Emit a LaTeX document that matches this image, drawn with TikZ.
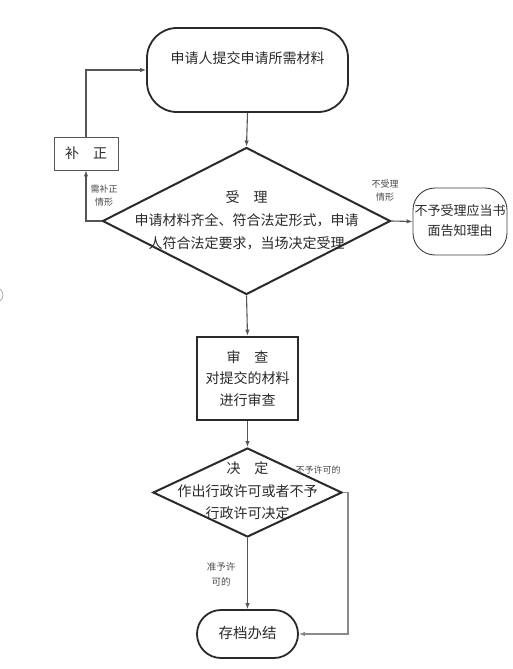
\documentclass[tikz,border=0pt]{standalone}
\usepackage{fontspec}
\newfontfamily\cjk{Noto Sans CJK SC}
\usetikzlibrary{shapes.geometric,arrows.meta}
\definecolor{ink}{HTML}{2A2A2A}
\definecolor{lineg}{HTML}{555555}
\definecolor{lightg}{HTML}{8A8A8A}
\begin{document}
\begin{tikzpicture}[x=1pt,y=-1pt,
  txt/.style={font=\cjk\fontsize{14}{23}\selectfont, text=ink, align=center, inner sep=0pt},
  small/.style={font=\cjk\fontsize{9}{13}\selectfont, text=ink!85, align=center, inner sep=0pt},
  terminal/.style={draw=ink, line width=1.8pt, inner sep=0pt},
  decision/.style={diamond, draw=ink, line width=2pt, inner sep=0pt},
  conn/.style={draw=lineg, line width=1.1pt, -{Latex[length=6pt,width=4.5pt]}},
  connlight/.style={draw=lightg, line width=1.1pt, -{Latex[length=6pt,width=4.5pt]}}
]
\useasboundingbox (0,0) rectangle (512,669);
\fill[white] (0,0) rectangle (512,669);

% top terminal
\node[terminal, rounded corners=30pt, minimum width=201pt, minimum height=84pt] (start) at (247.5,70) {};
\node[txt] (starttext) at (247.5,58) {申请人提交申请所需材料};

% supplement box
\node[draw=lineg, line width=0.9pt, minimum width=64pt, minimum height=33pt, txt] (bz) at (86,153.5) {补\hspace{1em}正};

% decision 1
\node[decision, minimum width=288pt, minimum height=147pt] (d1) at (246.5,221) {};
\node[txt] (d1text) at (246.5,220) {受\hspace{1em}理\\申请材料齐全、符合法定形式，申请\\人符合法定要求，当场决定受理};

% refuse node
\node[draw=ink!90, line width=0.9pt, rounded corners=22pt, minimum width=94pt, minimum height=67pt, inner sep=0pt] (refuse) at (460,221.5) {};
\node[txt, font=\cjk\fontsize{13}{20}\selectfont] (refusetext) at (460,221) {不予受理应当书\\面告知理由};

% review box
\node[draw=ink, line width=2.6pt, minimum width=101pt, minimum height=83pt, inner sep=0pt] (review) at (247.5,378.5) {};
\node[txt, font=\cjk\fontsize{14}{21.5}\selectfont] (reviewtext) at (247.5,378.5) {审\hspace{1em}查\\对提交的材料\\进行审查};

% decision 2
\node[decision, minimum width=189pt, minimum height=89pt] (d2) at (247.5,492.5) {};
\node[txt, font=\cjk\fontsize{14}{22.5}\selectfont] (d2text) at (247.5,491) {决\hspace{1em}定\\作出行政许可或者不予\\行政许可决定};

% end terminal
\node[terminal, rounded corners=24pt, minimum width=101pt, minimum height=48pt] (endn) at (247.5,634) {};
\node[txt, font=\cjk\fontsize{14.5}{18}\selectfont] (endtext) at (247.5,633) {存档办结};

% connectors
\draw[conn] (start.south) -- (d1.north);
\draw[conn] (d1.west) -| (bz.south);
\draw[conn] (bz.north) |- (start.west);
\draw[conn] (d1.east) -- (refuse.west);
\draw[conn] (d1.south) -- (review.north);
\draw[conn] (review.south) -- (d2.north);
\draw[conn] (d2.south) -- (endn.north);
\coordinate (rt) at (348,492.5);
\draw[connlight] (d2.east) -- (rt) |- (endn.east);

% connector labels
\node[small] (lbz) at (104,196) {需补正\\情形};
\node[small] (lref) at (385,191) {不受理\\情形};
\node[small] (lno) at (318,470) {不予许可的};
\node[small, font=\cjk\fontsize{9.5}{15}\selectfont] (lyes) at (221,574) {准予许\\可的};

% stray mark at left edge
\draw[lightg!70, line width=0.8pt] (0,289) .. controls (4,292) and (4,298) .. (0,301);
\end{tikzpicture}
\end{document}
